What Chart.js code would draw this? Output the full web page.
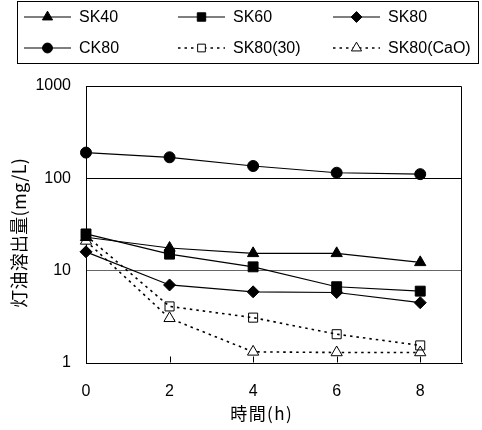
<!DOCTYPE html>
<html><head><meta charset="utf-8">
<script src="https://cdn.jsdelivr.net/npm/chart.js@4"></script>
<style>html,body{margin:0;padding:0;background:#fff}#wrap{width:482px;height:430px;position:relative}</style>
</head><body><div id="wrap"><canvas id="c" width="482" height="430"></canvas></div>
<script>
// ---- data ----
const hours = [0, 2, 4, 6, 8];
const seriesNames = ['SK40', 'SK60', 'SK80', 'CK80', 'SK80(30)', 'SK80(CaO)'];
const sk40 = [23, 17.6, 15.4, 15.4, 12.3];
const sk60 = [25, 15.1, 11.0, 6.7, 6.0];
const sk80 = [16, 7.0, 5.9, 5.8, 4.5];
const ck80 = [190, 169, 136, 115, 111];
const sk80_30 = [24, 4.1, 3.1, 2.05, 1.55];
const sk80_cao = [21, 3.05, 1.32, 1.3, 1.3];
const yTickValues = [1, 10, 100, 1000];
const xTickValues = [0, 2, 4, 6, 8];
const xTitle = '時間(h)';
const yTitle = '灯油溶出量(mg/L)';

const latin = '"Liberation Sans", Arial, sans-serif';
const cjk = '"Noto Sans CJK JP", sans-serif';

function pts(arr) { return hours.map((h, i) => ({ x: h, y: arr[i] })); }

function ds(label, arr, style, radius, fill, dashed) {
  return {
    label, data: pts(arr),
    borderColor: '#000', backgroundColor: fill,
    borderWidth: dashed ? 1.6 : 1.2,
    borderDash: dashed ? [2.5, 4] : [],
    pointStyle: style, pointRadius: radius, pointHoverRadius: radius,
    pointBackgroundColor: fill, pointBorderColor: '#000', pointBorderWidth: 1,
    tension: 0, clip: false, fill: false
  };
}

const datasets = [
  ds(seriesNames[0], sk40, 'triangle', 6.5, '#000', false),
  ds(seriesNames[1], sk60, 'rect', 7, '#000', false),
  ds(seriesNames[2], sk80, 'rectRot', 6, '#000', false),
  ds(seriesNames[3], ck80, 'circle', 5.5, '#000', false),
  ds(seriesNames[4], sk80_30, 'rect', 6.4, 'rgba(255,255,255,0)', true),
  ds(seriesNames[5], sk80_cao, 'triangle', 6.5, '#fff', true)
];

function spacedText(ctx, text, cx, cy, target) {
  ctx.letterSpacing = '0px';
  const w = ctx.measureText(text).width;
  const n = [...text].length;
  let sp = (target - w) / n;
  if ('letterSpacing' in ctx) {
    ctx.letterSpacing = sp.toFixed(2) + 'px';
    ctx.textAlign = 'center';
    ctx.fillText(text, cx + sp / 2, cy);
    ctx.letterSpacing = '0px';
  } else {
    ctx.textAlign = 'center';
    ctx.fillText(text, cx, cy);
  }
}

const H = Chart.helpers;
const frame = {
  id: 'frame',
  beforeDatasetsDraw(chart) {
    const { ctx, chartArea: a, scales: { x } } = chart;
    ctx.save();
    ctx.strokeStyle = '#000'; ctx.lineWidth = 1; ctx.setLineDash([]);
    const L = Math.round(a.left) + 0.5, R = Math.round(a.right) - 0.5;
    const T = Math.round(a.top) + 0.5, B = Math.round(a.bottom) - 0.5;
    ctx.beginPath();
    ctx.moveTo(L, T); ctx.lineTo(R, T); ctx.lineTo(R, B);
    ctx.stroke();
    xTickValues.forEach(v => {
      if (v === 0) return;
      const px = Math.round(x.getPixelForValue(v)) + 0.5;
      ctx.beginPath(); ctx.moveTo(px, B); ctx.lineTo(px, B - 6); ctx.stroke();
    });
    ctx.restore();
  },
  afterDraw(chart) {
    const { ctx } = chart;
    ctx.save();
    ctx.fillStyle = '#000';
    ctx.font = '17px ' + cjk;
    ctx.textBaseline = 'middle';
    spacedText(ctx, xTitle, 261, 414, 63);
    ctx.font = '18px ' + cjk;
    ctx.translate(19, 233); ctx.rotate(-Math.PI / 2);
    spacedText(ctx, yTitle, 0, 0, 150);
    ctx.restore();

    // legend
    ctx.save();
    ctx.strokeStyle = '#000'; ctx.lineWidth = 1;
    ctx.strokeRect(17.5, 1.5, 461, 62);
    const colX = [24, 178, 333];
    const rowY = [17, 48];
    const segW = 47;
    chart.data.datasets.forEach((d, i) => {
      const col = i % 3, row = Math.floor(i / 3);
      const x0 = colX[col], y0 = rowY[row];
      ctx.save();
      ctx.strokeStyle = '#000';
      ctx.lineWidth = d.borderWidth;
      ctx.setLineDash(d.borderDash);
      ctx.beginPath(); ctx.moveTo(x0, y0); ctx.lineTo(x0 + segW, y0); ctx.stroke();
      ctx.setLineDash([]);
      ctx.lineWidth = d.pointBorderWidth;
      ctx.fillStyle = d.pointBackgroundColor === 'rgba(255,255,255,0)' ? '#fff' : d.pointBackgroundColor;
      ctx.strokeStyle = d.pointBorderColor;
      const r = d.pointStyle === 'rect' ? d.pointRadius * 0.85 : d.pointRadius * 0.9;
      H.drawPoint(ctx, { pointStyle: d.pointStyle, radius: r, borderWidth: 1, rotation: 0 }, x0 + segW / 2, y0);
      ctx.restore();
      ctx.fillStyle = '#000';
      ctx.font = '16px ' + latin;
      ctx.textAlign = 'left'; ctx.textBaseline = 'middle';
      ctx.fillText(d.label, x0 + segW + 8, y0 + 1);
    });
    ctx.restore();
  }
};

new Chart(document.getElementById('c'), {
  type: 'line',
  data: { datasets },
  options: {
    responsive: false, animation: false,
    layout: { padding: { top: 86, right: 20, left: 0, bottom: 0 } },
    plugins: { legend: { display: false }, tooltip: { enabled: false } },
    scales: {
      x: {
        type: 'linear', min: 0, max: 9,
        afterBuildTicks: s => { s.ticks = xTickValues.map(v => ({ value: v })); },
        afterFit: s => { s.height = 67; },
        grid: { display: false, drawTicks: false },
        border: { display: true, color: '#000', width: 1 },
        ticks: { color: '#000', font: { family: latin, size: 16 }, padding: 19, maxRotation: 0, callback: v => String(v) }
      },
      y: {
        type: 'logarithmic', min: 1, max: 1000,
        afterBuildTicks: s => { s.ticks = yTickValues.map(v => ({ value: v })); },
        afterFit: s => { s.width = 86; },
        grid: {
          drawTicks: false,
          color: c => c.tick && c.tick.value === 100 ? '#000' : (c.tick && c.tick.value === 10 ? '#666' : 'rgba(0,0,0,0)'),
          lineWidth: 1
        },
        border: { display: true, color: '#000', width: 1 },
        ticks: { color: '#000', font: { family: latin, size: 16 }, padding: 15, callback: v => String(v) }
      }
    }
  },
  plugins: [frame]
});
</script></body></html>
